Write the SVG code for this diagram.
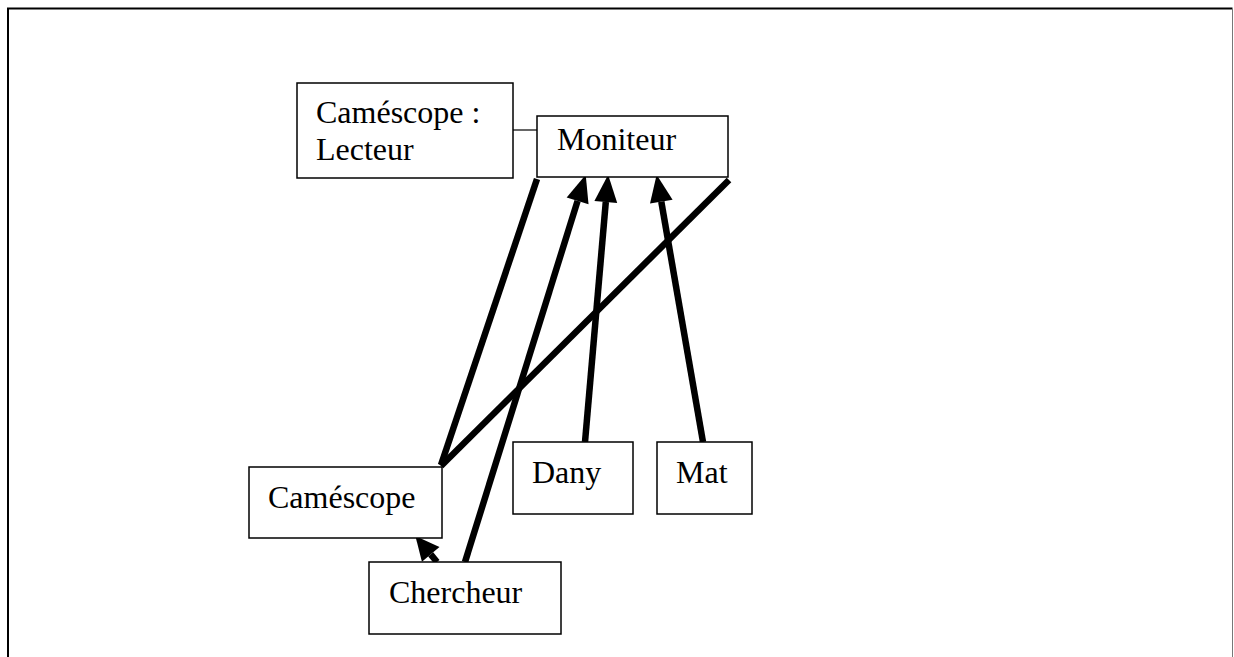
<svg xmlns="http://www.w3.org/2000/svg" width="1234" height="657" viewBox="0 0 1234 657">
<style>
.box{fill:#fff;stroke:#000;stroke-width:1.5}
.lbl{font-family:"Liberation Serif","Times New Roman",serif;font-size:32px;fill:#000}
.thick{stroke:#000;stroke-width:6.5;fill:none}
.thin{stroke:#000;stroke-width:1.2;fill:none}
</style>
<defs>
<marker id="ah" markerUnits="userSpaceOnUse" markerWidth="30" markerHeight="24" refX="0" refY="0" viewBox="0 -11 26 22" orient="auto" overflow="visible">
<path d="M0,-10.5 L25,0 L0,10.5 z" fill="#000"/>
</marker>
<marker id="ahs" markerUnits="userSpaceOnUse" markerWidth="24" markerHeight="24" refX="0" refY="0" viewBox="0 -10 20 20" orient="auto" overflow="visible">
<path d="M0,-9.5 L20,0 L0,9.5 z" fill="#000"/>
</marker>
</defs>
<rect width="1234" height="657" fill="#fff"/>
<g id="frame">
<path d="M8,660 L8,8.5 L1232.5,8.5" fill="none" stroke="#000" stroke-width="2"/>
<line x1="1232.5" y1="9" x2="1232.5" y2="660" stroke="#777" stroke-width="1"/>
</g>
<g id="connectors">
<line class="thin" x1="513" y1="130" x2="537" y2="130"/>
<line class="thick" x1="537" y1="179" x2="441" y2="465"/>
<line class="thick" x1="729" y1="180" x2="441" y2="466"/>
<line class="thick" x1="465" y1="562" x2="577.6" y2="200.9" marker-end="url(#ah)"/>
<line class="thick" x1="585" y1="442" x2="605.8" y2="201.9" marker-end="url(#ah)"/>
<line class="thick" x1="703" y1="442" x2="661.3" y2="201.6" marker-end="url(#ah)"/>
<line class="thick" x1="437" y1="562" x2="430.7" y2="554.4" marker-end="url(#ahs)"/>
</g>
<g id="node-lecteur">
<rect class="box" x="297" y="83" width="216" height="95"/>
<text class="lbl" x="316" y="123">Caméscope :</text>
<text class="lbl" x="316" y="160">Lecteur</text>
</g>
<g id="node-moniteur">
<rect class="box" x="537" y="116" width="191" height="61"/>
<text class="lbl" x="557" y="150">Moniteur</text>
</g>
<g id="node-camescope">
<rect class="box" x="249" y="467" width="193" height="71"/>
<text class="lbl" x="268" y="508">Caméscope</text>
</g>
<g id="node-chercheur">
<rect class="box" x="369" y="562" width="192" height="72"/>
<text class="lbl" x="389" y="603">Chercheur</text>
</g>
<g id="node-dany">
<rect class="box" x="513" y="442" width="120" height="72"/>
<text class="lbl" x="532" y="483">Dany</text>
</g>
<g id="node-mat">
<rect class="box" x="657" y="442" width="95" height="72"/>
<text class="lbl" x="676" y="483">Mat</text>
</g>
</svg>
